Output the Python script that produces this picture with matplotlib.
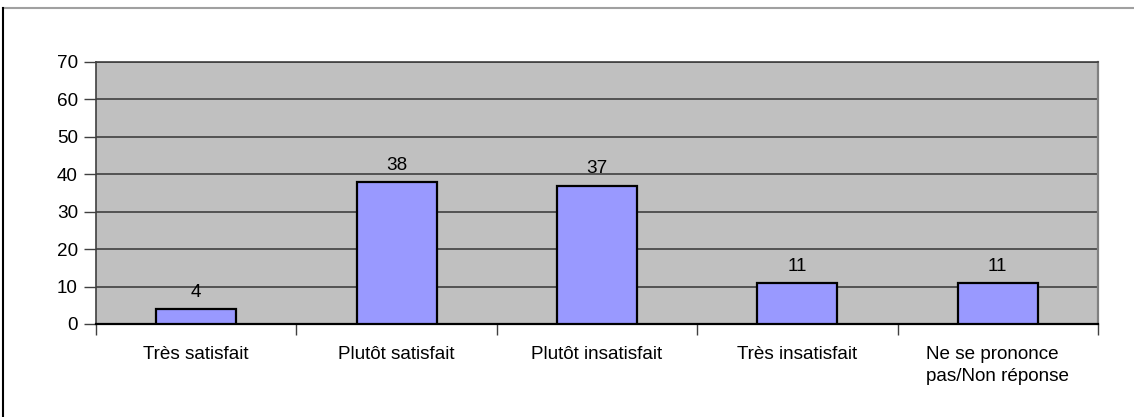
import matplotlib
matplotlib.use("Agg")
import matplotlib.pyplot as plt
from matplotlib.lines import Line2D

categories = ["Très satisfait", "Plutôt satisfait", "Plutôt insatisfait",
              "Très insatisfait", "Ne se prononce\npas/Non réponse"]
values = [4, 38, 37, 11, 11]
yticks = [0, 10, 20, 30, 40, 50, 60, 70]

plt.rcParams['font.family'] = ['Liberation Sans', 'DejaVu Sans']
FS = 13.6

W, H = 1134, 417
fig = plt.figure(figsize=(W / 100, H / 100), dpi=100)
fig.patch.set_facecolor('white')

# outer chart border (top grey, left black)
fig.add_artist(Line2D([3 / W, 1], [1 - 8 / H, 1 - 8 / H], color='#a0a0a0', lw=1.5,
                      transform=fig.transFigure))
fig.add_artist(Line2D([3 / W, 3 / W], [0, 1 - 8 / H], color='black', lw=1.5,
                      transform=fig.transFigure))

x0, x1, y0, y1 = 96, 1098, 62, 324
ax = fig.add_axes([x0 / W, 1 - y1 / H, (x1 - x0) / W, (y1 - y0) / H])
ax.set_facecolor('#c0c0c0')

n = len(categories)
pos = list(range(n))
ax.bar(pos, values, width=0.4, color='#9999ff', edgecolor='black', linewidth=1.6, zorder=3)
for p, v in zip(pos, values):
    ax.annotate(str(v), (p, v), xytext=(0, 5.8), textcoords='offset points',
                ha='center', va='bottom', fontsize=FS, color='black')

ax.set_xlim(-0.5, n - 0.5)
ax.set_ylim(0, 70)
ax.set_yticks(yticks)
ax.set_yticklabels([str(t) for t in yticks], fontsize=FS)
ax.yaxis.grid(True, color='#404040', lw=1.2, zorder=1)
ax.set_axisbelow(True)

ax.set_xticks([p for p in pos])
ax.set_xticklabels(categories, fontsize=FS, multialignment='left', linespacing=1.4)
ax.tick_params(axis='x', length=0, pad=15.5)
# category separator ticks
ax.set_xticks([p - 0.5 for p in pos] + [n - 0.5], minor=True)
ax.tick_params(axis='x', which='minor', length=8, width=1, color='#404040', direction='out')
ax.tick_params(axis='y', length=9, width=1, color='#404040', pad=4)

ax.spines['left'].set_color('#404040')
ax.spines['left'].set_linewidth(1.2)
ax.spines['bottom'].set_color('black')
ax.spines['bottom'].set_linewidth(1.6)
ax.spines['top'].set_color('#404040')
ax.spines['top'].set_linewidth(1.2)
ax.spines['right'].set_color('#808080')
ax.spines['right'].set_linewidth(1.6)

fig.savefig("out.png", dpi=100, facecolor='white')
